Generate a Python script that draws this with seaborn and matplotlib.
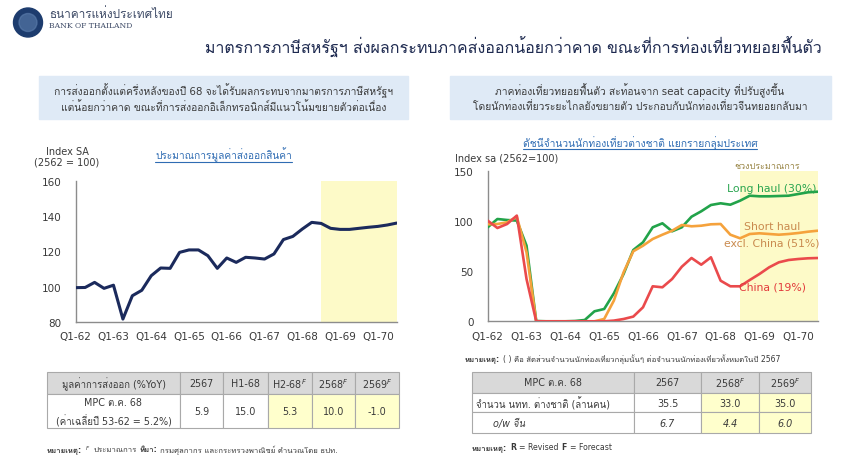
import numpy as np
import pandas as pd
import matplotlib
matplotlib.use('Agg')
import matplotlib.pyplot as plt
import seaborn as sns
from matplotlib import font_manager
from matplotlib.ft2font import FT2Font
from matplotlib.patches import Rectangle, Circle

# ---------------- data ----------------
x_labels = ['Q1-62', 'Q1-63', 'Q1-64', 'Q1-65', 'Q1-66', 'Q1-67', 'Q1-68', 'Q1-69', 'Q1-70']

export_idx = [99.4, 99.5, 102.4, 99.0, 100.8, 81.5, 94.8, 97.9, 106.2, 110.6,
              110.4, 119.5, 120.9, 120.9, 117.6, 110.4, 116.3, 113.8, 116.7, 116.3,
              115.7, 118.6, 126.8, 128.6, 132.8, 136.6, 136.0, 133.2, 132.6, 132.6,
              133.2, 133.8, 134.3, 135.1, 136.2]

long_haul = [94.0, 102.3, 101.3, 100.7, 75.7, 0.3, 0.0, 0.0, 0.0, 0.3,
             1.3, 10.0, 12.3, 28.0, 47.3, 71.3, 79.0, 94.0, 98.0, 90.0,
             94.0, 104.6, 110.0, 116.3, 118.0, 116.6, 120.6, 125.6, 125.0, 125.0,
             125.3, 125.6, 127.3, 129.0, 129.6]
short_haul = [97.0, 97.3, 99.0, 104.5, 69.0, 0.0, 0.0, 0.0, 0.0, 0.0,
              0.0, 0.0, 2.3, 20.7, 49.0, 70.0, 75.6, 82.3, 86.6, 90.6,
              96.3, 95.0, 95.6, 97.0, 97.3, 86.6, 83.0, 87.3, 88.0, 87.3,
              86.6, 87.3, 88.3, 89.6, 90.6]
china = [100.7, 93.3, 97.3, 105.7, 42.3, 0.0, 0.0, 0.0, 0.0, 0.0,
         0.0, 0.0, 0.0, 0.7, 2.3, 4.7, 14.0, 35.0, 34.0, 42.3,
         54.6, 63.3, 56.6, 64.0, 40.6, 35.0, 35.0, 41.3, 47.3, 54.0,
         59.0, 61.3, 62.3, 63.0, 63.3]

groups = ['Long haul', 'Short haul excl. China', 'China']
group_colors = {'Long haul': '#22a34a', 'Short haul excl. China': '#f5a23c', 'China': '#ea4a4c'}

exp_header = ['มูลค่าการส่งออก (%YoY)', '2567', 'H1-68', 'H2-68$^{F}$', '2568$^{F}$', '2569$^{F}$']
exp_row_label = ['MPC ต.ค. 68', '(ค่าเฉลี่ยปี 53-62 = 5.2%)']
exp_values = ['5.9', '15.0', '5.3', '10.0', '-1.0']

tour_header = ['MPC ต.ค. 68', '2567', '2568$^{F}$', '2569$^{F}$']
tour_rows = ['จำนวน นทท. ต่างชาติ (ล้านคน)', 'o/w จีน']
tour_total = ['35.5', '33.0', '35.0']
tour_china = ['6.7', '4.4', '6.0']

# ---------------- fonts ----------------
sns.set_style('white')
thai_fams = []
for f in font_manager.fontManager.ttflist:
    if f.name in thai_fams:
        continue
    try:
        cmap = FT2Font(f.fname).get_charmap()
    except Exception:
        continue
    if 0x0E01 in cmap:
        thai_fams.append(f.name)
plt.rcParams['font.family'] = ['DejaVu Sans'] + thai_fams[:1]
plt.rcParams['mathtext.fontset'] = 'dejavusans'

W, H = 860, 456
fig = plt.figure(figsize=(8.6, 4.56), dpi=100)
fig.patch.set_facecolor('white')

ov = fig.add_axes([0, 0, 1, 1], zorder=0)
ov.set_xlim(0, W)
ov.set_ylim(H, 0)
ov.axis('off')
renderer = fig.canvas.get_renderer()

dark = '#3a3a3a'
blue_link = '#2f6cb3'


def runs(x, y, parts, size=5.6):
    # put text pieces one after another on a line
    for txt, bold in parts:
        t = ov.text(x, y, txt, fontsize=size, color=dark, va='center',
                    fontweight='bold' if bold else 'normal')
        x += t.get_window_extent(renderer=renderer).width + 3


# logo + header
ov.add_patch(Circle((28, 23.5), 14.5, color='#1d3c6e'))
ov.add_patch(Circle((28, 23.5), 9, color='#5d7fae', alpha=0.6))
ov.text(49, 15, 'ธนาคารแห่งประเทศไทย', fontsize=8.5, color='#3d4a66', va='center')
ov.text(49, 26.5, 'BANK OF THAILAND', fontsize=5.5, color='#3d4a66', va='center', family='DejaVu Serif')
ov.text(513, 47, 'มาตรการภาษีสหรัฐฯ ส่งผลกระทบภาคส่งออกน้อยกว่าคาด ขณะที่การท่องเที่ยวทยอยฟื้นตัว',
        fontsize=11.5, color='#1e2a50', ha='center', va='center')

# blue message boxes
ov.add_patch(Rectangle((39, 77), 369, 43, color='#dfeaf6'))
ov.add_patch(Rectangle((450, 77), 381, 43, color='#dfeaf6'))
ov.text(224, 91, 'การส่งออกตั้งแต่ครึ่งหลังของปี 68 จะได้รับผลกระทบจากมาตรการภาษีสหรัฐฯ',
        fontsize=7.4, color=dark, ha='center', va='center')
ov.text(224, 107, 'แต่น้อยกว่าคาด ขณะที่การส่งออกอิเล็กทรอนิกส์มีแนวโน้มขยายตัวต่อเนื่อง',
        fontsize=7.4, color=dark, ha='center', va='center')
ov.text(640, 91, 'ภาคท่องเที่ยวทยอยฟื้นตัว สะท้อนจาก seat capacity ที่ปรับสูงขึ้น',
        fontsize=7.4, color=dark, ha='center', va='center')
ov.text(640, 107, 'โดยนักท่องเที่ยวระยะไกลยังขยายตัว ประกอบกับนักท่องเที่ยวจีนทยอยกลับมา',
        fontsize=7.4, color=dark, ha='center', va='center')

# chart captions
sub_l = ov.text(155, 155, 'ประมาณการมูลค่าส่งออกสินค้า', fontsize=7.3, color=blue_link, ha='left', va='center')
sub_r = ov.text(640, 143, 'ดัชนีจำนวนนักท่องเที่ยวต่างชาติ แยกรายกลุ่มประเทศ', fontsize=7.4,
                color=blue_link, ha='center', va='center')
ov.text(67, 157, 'Index SA\n(2562 = 100)', fontsize=7, color=dark, ha='center', va='center', linespacing=1.1)
ov.text(455, 159, 'Index sa (2562=100)', fontsize=7, color=dark, ha='left', va='center')

# ---------------- left chart ----------------
tick_pos = list(range(0, 33, 4))
axl = fig.add_axes([75.7 / W, 1 - 322.7 / H, (396.7 - 75.7) / W, (322.7 - 182.3) / H], zorder=1)
axl.set_facecolor('none')
df_exp = pd.DataFrame({'q': range(len(export_idx)), 'value': export_idx})
axl.axvspan(26, 34, color='#fdfac8', zorder=0, lw=0)
sns.lineplot(data=df_exp, x='q', y='value', ax=axl, color='#1b2a5c', lw=2.2, zorder=3)
axl.set_xlim(0, 34)
axl.set_ylim(80, 160)
axl.set_yticks([80, 100, 120, 140, 160])

# ---------------- right chart ----------------
axr = fig.add_axes([487.7 / W, 1 - 322.3 / H, (817.7 - 487.7) / W, (322.3 - 172.3) / H], zorder=1)
axr.set_facecolor('none')
df_t = pd.DataFrame({'q': list(range(len(long_haul))) * 3,
                     'value': long_haul + short_haul + china,
                     'group': [g for g in groups for _ in range(len(long_haul))]})
axr.axvspan(26, 34, color='#fdfac8', zorder=0, lw=0)
sns.lineplot(data=df_t, x='q', y='value', hue='group', hue_order=groups, palette=group_colors,
             ax=axr, lw=1.9, legend=False, zorder=3)
axr.set_xlim(0, 34)
axr.set_ylim(0, 150)
axr.set_yticks([0, 50, 100, 150])
axr.text(29.3, 133.5, 'Long haul (30%)', color='#2aa550', fontsize=7.8, ha='center', va='center')
axr.text(29.3, 95, 'Short haul', color='#c98a4e', fontsize=7.8, ha='center', va='center')
axr.text(29.3, 79, 'excl. China (51%)', color='#c98a4e', fontsize=7.8, ha='center', va='center')
axr.text(29.3, 34.6, 'China (19%)', color='#e23b3d', fontsize=7.8, ha='center', va='center')
axr.text(28.8, 155.8, 'ช่วงประมาณการ', color='#9a8748', fontsize=6.5, ha='center', va='center', clip_on=False)

for ax in (axl, axr):
    ax.set_xticks(tick_pos)
    ax.set_xticklabels(x_labels)
    ax.set_xlabel('')
    ax.set_ylabel('')
    for s in ('top', 'right'):
        ax.spines[s].set_visible(False)
    for s in ('left', 'bottom'):
        ax.spines[s].set_color('#8c8c8c')
        ax.spines[s].set_linewidth(1)
    ax.tick_params(axis='both', direction='out', length=4, width=1, color='#8c8c8c',
                   labelsize=7.5, labelcolor=dark, pad=3)
    ax.tick_params(axis='y', pad=6)

# ---------------- tables ----------------
grid = '#a9a9a9'
hdr = '#d9d9d9'
yel = '#ffffcc'
tfs = 6.9


def cell(x0, y0, x1, y1, fc):
    ov.add_patch(Rectangle((x0, y0), x1 - x0, y1 - y0, facecolor=fc, edgecolor=grid, lw=0.8))


# export table
cx = [47, 180, 223, 268, 312, 355, 399]
ry = [372.5, 395, 429]
for i in range(6):
    cell(cx[i], ry[0], cx[i + 1], ry[1], hdr)
    ov.text((cx[i] + cx[i + 1]) / 2, (ry[0] + ry[1]) / 2, exp_header[i], fontsize=tfs, color=dark,
            ha='center', va='center')
for i in range(6):
    cell(cx[i], ry[1], cx[i + 1], ry[2], yel if i >= 3 else 'white')
ov.text((cx[0] + cx[1]) / 2, 403, exp_row_label[0], fontsize=tfs, color=dark, ha='center', va='center')
ov.text((cx[0] + cx[1]) / 2, 421, exp_row_label[1], fontsize=tfs, color=dark, ha='center', va='center')
for i, v in enumerate(exp_values):
    ov.text((cx[i + 1] + cx[i + 2]) / 2, (ry[1] + ry[2]) / 2, v, fontsize=tfs, color=dark,
            ha='center', va='center')

runs(47, 450, [('หมายเหตุ:', True), ('$^{F}$', False), ('ประมาณการ', False), ('ที่มา:', True),
               ('กรมศุลกากร และกระทรวงพาณิชย์ คำนวณโดย ธปท.', False)])

# tourism table
runs(465, 359, [('หมายเหตุ:', True),
                ('( ) คือ สัดส่วนจำนวนนักท่องเที่ยวกลุ่มนั้นๆ ต่อจำนวนนักท่องเที่ยวทั้งหมดในปี 2567', False)])
tx = [472, 634, 701, 759, 811]
ty = [373, 394, 413.5, 434]
for i in range(4):
    cell(tx[i], ty[0], tx[i + 1], ty[1], hdr)
    ov.text((tx[i] + tx[i + 1]) / 2, (ty[0] + ty[1]) / 2, tour_header[i], fontsize=tfs, color=dark,
            ha='center', va='center')
for r in range(2):
    for i in range(4):
        cell(tx[i], ty[r + 1], tx[i + 1], ty[r + 2], yel if i >= 2 else 'white')
ov.text(476, (ty[1] + ty[2]) / 2, tour_rows[0], fontsize=tfs, color=dark, ha='left', va='center')
ov.text(493, (ty[2] + ty[3]) / 2, tour_rows[1], fontsize=tfs, color=dark, ha='left', va='center',
        style='italic')
for i in range(3):
    ov.text((tx[i + 1] + tx[i + 2]) / 2, (ty[1] + ty[2]) / 2, tour_total[i], fontsize=tfs, color=dark,
            ha='center', va='center')
    ov.text((tx[i + 1] + tx[i + 2]) / 2, (ty[2] + ty[3]) / 2, tour_china[i], fontsize=tfs, color=dark,
            ha='center', va='center', style='italic')

runs(472, 448, [('หมายเหตุ:', True), ('R', True), ('= Revised', False), ('F', True), ('= Forecast', False)])

# underline the two chart captions
inv = ov.transData.inverted()
for t in (sub_l, sub_r):
    bb = t.get_window_extent(renderer=renderer)
    (x0, y0), (x1, y1) = inv.transform([[bb.x0, bb.y0], [bb.x1, bb.y1]])
    ov.plot([x0, x1], [y0 + 0.5, y0 + 0.5], color=blue_link, lw=0.8)

fig.savefig('out.png', dpi=100, facecolor='white')
